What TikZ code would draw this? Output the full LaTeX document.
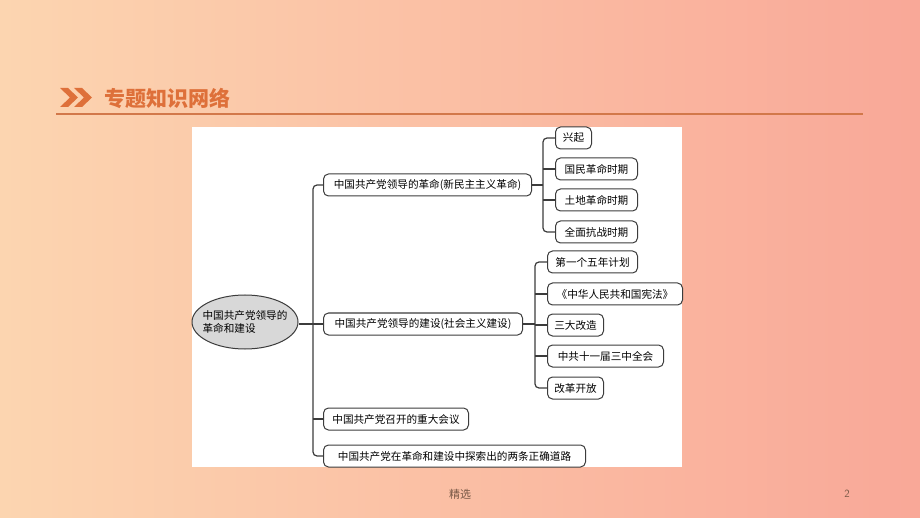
\documentclass[tikz,border=0pt]{standalone}
\usepackage{fontspec}
\newfontfamily\cjk{Noto Sans CJK SC}
\usetikzlibrary{shapes.geometric}
\definecolor{bgL}{RGB}{252,213,176}
\definecolor{bgR}{RGB}{249,168,152}
\definecolor{ttl}{RGB}{222,112,58}
\definecolor{rule}{RGB}{210,120,74}
\definecolor{lin}{RGB}{60,60,60}
\definecolor{foot}{RGB}{120,88,70}
\tikzset{
  x=1pt, y=-1pt,
  box/.style={draw=lin, line width=1pt, rounded corners=5pt, fill=white, anchor=west,
    inner xsep=4pt, inner ysep=0pt, minimum height=22pt, font=\cjk\fontsize{10.6}{12}\selectfont, text=black},
  conn/.style={draw=lin, line width=1.2pt},
}
\begin{document}
\begin{tikzpicture}
\useasboundingbox (0,0) rectangle (920,518);
\shade[left color=bgL, right color=bgR] (0,0) rectangle (920,518);
% title
\fill[ttl] (60,88) -- (68,88) -- (78,97.5) -- (68,107) -- (60,107) -- (70,97.5) -- cycle;
\fill[ttl] (74,88) -- (82,88) -- (92,97.5) -- (82,107) -- (74,107) -- (84,97.5) -- cycle;
\node[anchor=west, text=ttl, font=\cjk\bfseries\fontsize{21}{24}\selectfont, inner sep=0pt] (title) at (104,98) {专题知识网络};
\draw[rule, line width=2pt] (56,114) -- (863,114);
% panel
\fill[white] (192,127) rectangle (682,467);
% root
\node[ellipse, draw=lin, line width=1pt, fill={rgb,255:red,216;green,216;blue,216}, minimum width=106pt, minimum height=54pt, inner xsep=-9pt, inner ysep=-1pt,
  font=\cjk\fontsize{10.6}{13}\selectfont, align=left] (root) at (245,322) {中国共产党领导的\\革命和建设};
% level 1
\node[box, minimum width=208pt] (b1) at (323,185) {中国共产党领导的革命(新民主主义革命)};
\node[box, minimum width=199pt] (b2) at (323,324) {中国共产党领导的建设(社会主义建设)};
\node[box, minimum width=145pt] (b3) at (323,419) {中国共产党召开的重大会议};
\node[box, minimum width=262pt] (b4) at (323,456) {中国共产党在革命和建设中探索出的两条正确道路};
% level 2 (group 1)
\node[box, minimum width=36pt] (c1) at (555,138) {兴起};
\node[box, minimum width=82pt] (c2) at (555,169) {国民革命时期};
\node[box, minimum width=82pt] (c3) at (555,200) {土地革命时期};
\node[box, minimum width=82pt] (c4) at (555,232) {全面抗战时期};
% level 2 (group 2)
\node[box, minimum width=90pt] (d1) at (547,262) {第一个五年计划};
\node[box, minimum width=135pt] (d2) at (547,294) {《中华人民共和国宪法》};
\node[box, minimum width=56pt] (d3) at (547,325) {三大改造};
\node[box, minimum width=116pt] (d4) at (547,356) {中共十一届三中全会};
\node[box, minimum width=56pt] (d5) at (547,388) {改革开放};
% trunks
\coordinate (tx) at (313,0);
\coordinate (sx) at (543,0);
\coordinate (ux) at (535,0);
\draw[conn, rounded corners=4pt] (b1.west) -- (b1.west -| tx) -- (b4.west -| tx) -- (b4.west);
\draw[conn] (root.east |- b2.west) -- (b2.west);
\draw[conn] (b3.west) -- (b3.west -| tx);
\draw[conn, rounded corners=4pt] (c1.west) -- (c1.west -| sx) -- (c4.west -| sx) -- (c4.west);
\draw[conn] (b1.east) -- (b1.east -| sx);
\draw[conn] (c2.west) -- (c2.west -| sx);
\draw[conn] (c3.west) -- (c3.west -| sx);
\draw[conn, rounded corners=4pt] (d1.west) -- (d1.west -| ux) -- (d5.west -| ux) -- (d5.west);
\draw[conn] (b2.east) -- (b2.east -| ux);
\draw[conn] (d2.west) -- (d2.west -| ux);
\draw[conn] (d3.west) -- (d3.west -| ux);
\draw[conn] (d4.west) -- (d4.west -| ux);
% footer
\node[text=foot, font=\cjk\fontsize{11}{13}\selectfont, inner sep=0pt] (f1) at (460,494) {精选};
\node[text=foot, font=\sffamily\fontsize{11}{13}\selectfont, inner sep=0pt] (f2) at (847,494) {2};
\end{tikzpicture}
\end{document}
